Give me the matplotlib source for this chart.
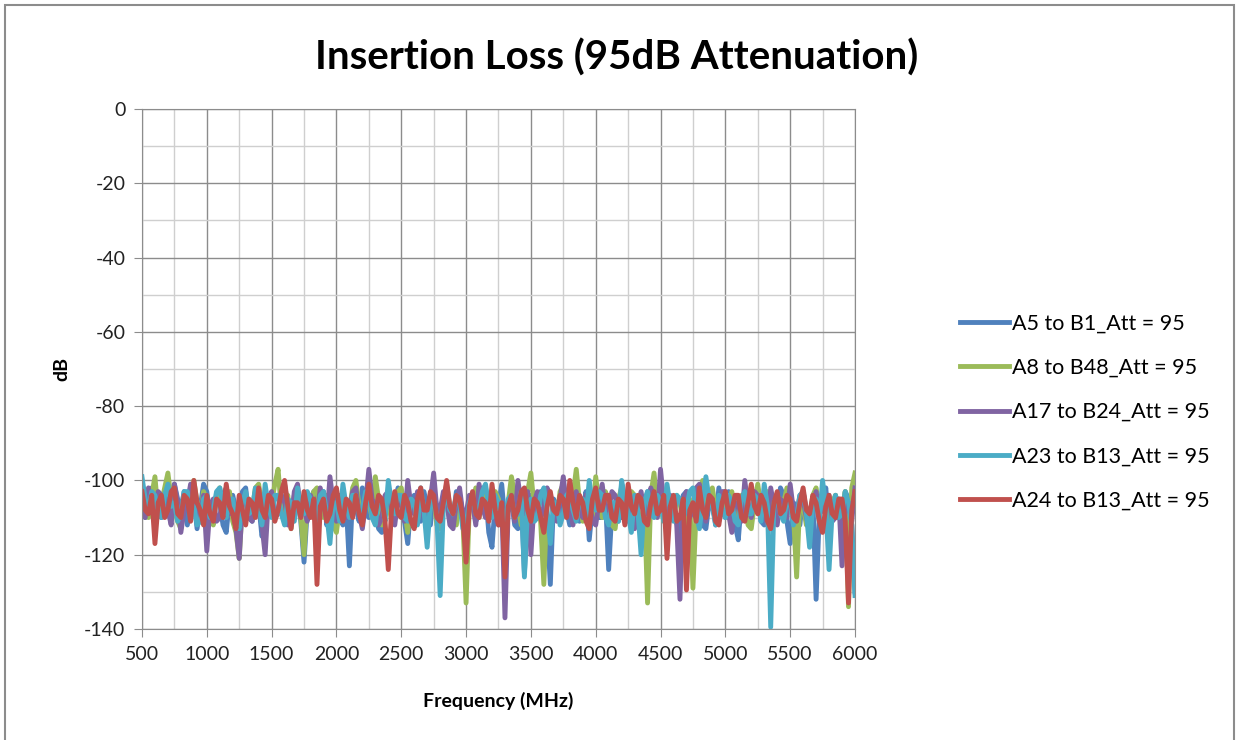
import numpy as np
import matplotlib
matplotlib.use("Agg")
import matplotlib.pyplot as plt
from matplotlib.patches import Rectangle

plt.rcParams['font.family'] = ['Lato', 'DejaVu Sans']
plt.rcParams['axes.unicode_minus'] = False

# frequency grid (MHz), one sample every 25 MHz
freq = np.arange(500, 6001, 25)

a5_b1 = [
    -104, -110, -109, -102, -103, -107, -110, -104, -106, -111, -101, -105, -108, -103, -112, -106, -105, -113, -107, -101,
    -103, -109, -110, -104, -106, -112, -114, -105, -104, -108, -109, -103, -102, -110, -111, -105, -106, -115, -113, -104,
    -104, -110, -108, -102, -101, -107, -110, -104, -105, -111, -122, -108, -106, -103, -111, -105, -103, -112, -109, -104,
    -105, -110, -112, -106, -123, -104, -107, -111, -102, -108, -110, -103, -106, -113, -114, -107, -103, -110, -109, -102,
    -105, -111, -117, -106, -104, -110, -111, -103, -107, -112, -102, -108, -112, -104, -106, -111, -110, -103, -104, -109,
    -115, -105, -106, -111, -109, -102, -103, -114, -118, -106, -107, -101, -111, -108, -105, -112, -113, -104, -125, -108,
    -104, -111, -110, -103, -106, -112, -128, -105, -107, -110, -102, -108, -112, -104, -105, -111, -109, -103, -116, -107,
    -104, -110, -110, -105, -124, -108, -106, -111, -101, -106, -111, -104, -105, -112, -114, -106, -103, -109, -108, -102,
    -104, -110, -112, -105, -106, -111, -118, -104, -103, -109, -109, -104, -105, -112, -113, -106, -107, -111, -102, -108,
    -110, -103, -106, -112, -116, -105, -104, -110, -109, -103, -103, -111, -112, -105, -106, -109, -110, -102, -104, -111,
    -117, -106, -107, -112, -103, -108, -111, -105, -132, -109, -106, -102, -113, -107, -104, -110, -110, -103, -105, -112,
    -130]

a8_b48 = [
    -103, -107, -110, -104, -99, -109, -106, -102, -98, -105, -108, -111, -113, -106, -104, -110, -100, -106, -109, -103,
    -105, -109, -112, -104, -102, -108, -107, -103, -111, -114, -121, -106, -104, -110, -108, -102, -101, -107, -110, -104,
    -106, -101, -97, -108, -109, -104, -113, -106, -104, -110, -120, -105, -107, -103, -102, -109, -110, -104, -105, -112,
    -114, -107, -103, -109, -108, -102, -100, -107, -111, -104, -106, -110, -99, -105, -112, -106, -105, -111, -109, -103,
    -102, -108, -114, -105, -107, -111, -103, -108, -110, -104, -105, -112, -113, -106, -101, -107, -108, -112, -104, -110,
    -133, -107, -106, -102, -110, -105, -102, -108, -109, -103, -105, -111, -112, -106, -99, -104, -107, -112, -110, -103,
    -98, -107, -106, -111, -128, -105, -104, -109, -110, -103, -101, -107, -108, -104, -97, -106, -111, -105, -105, -110,
    -99, -106, -110, -103, -106, -112, -113, -105, -102, -109, -108, -103, -104, -110, -111, -106, -133, -104, -98, -107,
    -107, -111, -103, -108, -110, -104, -106, -112, -114, -105, -129, -108, -104, -100, -109, -105, -102, -108, -111, -104,
    -106, -110, -103, -108, -110, -104, -105, -112, -113, -106, -101, -107, -108, -103, -104, -110, -111, -105, -106, -102,
    -103, -109, -126, -105, -107, -112, -110, -104, -102, -108, -108, -105, -113, -106, -104, -110, -109, -103, -134, -102,
    -98]

a17_b24 = [
    -106, -110, -102, -107, -110, -103, -104, -109, -108, -112, -101, -106, -114, -108, -106, -101, -103, -110, -109, -104,
    -119, -107, -105, -111, -110, -104, -102, -109, -108, -113, -121, -106, -104, -110, -111, -103, -106, -112, -120, -105,
    -103, -110, -109, -104, -105, -112, -112, -103, -101, -108, -108, -111, -104, -107, -110, -102, -106, -111, -99, -106,
    -111, -104, -105, -110, -108, -103, -102, -109, -113, -106, -97, -105, -107, -112, -110, -104, -103, -108, -112, -105,
    -106, -111, -100, -107, -109, -103, -104, -110, -111, -105, -98, -108, -108, -103, -105, -112, -113, -106, -102, -109,
    -109, -104, -106, -112, -101, -107, -110, -105, -104, -110, -112, -106, -137, -108, -105, -111, -100, -106, -109, -103,
    -120, -106, -103, -110, -108, -102, -104, -109, -111, -105, -99, -107, -107, -112, -103, -108, -110, -104, -105, -111,
    -112, -106, -101, -108, -108, -103, -104, -110, -110, -105, -106, -111, -113, -107, -103, -109, -109, -102, -105, -110,
    -97, -106, -110, -104, -106, -112, -132, -105, -103, -110, -108, -102, -101, -107, -111, -104, -105, -112, -109, -103,
    -103, -109, -114, -106, -106, -111, -100, -107, -110, -103, -104, -110, -108, -112, -102, -107, -112, -105, -106, -110,
    -101, -108, -109, -104, -105, -110, -113, -106, -103, -109, -108, -104, -104, -111, -110, -105, -123, -108, -106, -111,
    -102]

a23_b13 = [
    -99, -105, -108, -103, -104, -109, -110, -104, -101, -107, -106, -111, -109, -103, -103, -108, -107, -112, -111, -105,
    -104, -110, -108, -103, -102, -107, -110, -105, -105, -111, -113, -106, -103, -109, -108, -102, -106, -112, -101, -107,
    -110, -104, -104, -109, -112, -105, -106, -111, -102, -108, -109, -103, -105, -110, -111, -104, -103, -109, -117, -106,
    -106, -111, -101, -107, -110, -104, -104, -109, -108, -103, -103, -110, -112, -105, -106, -111, -100, -106, -109, -104,
    -104, -110, -111, -105, -106, -112, -102, -108, -118, -106, -105, -110, -131, -107, -103, -108, -109, -104, -106, -113,
    -112, -106, -104, -109, -108, -103, -101, -107, -110, -104, -106, -111, -113, -105, -104, -110, -109, -103, -126, -107,
    -105, -111, -110, -104, -102, -108, -117, -106, -106, -112, -109, -104, -103, -108, -111, -105, -105, -110, -100, -107,
    -108, -103, -104, -110, -112, -106, -106, -111, -100, -105, -109, -114, -104, -108, -120, -106, -103, -109, -110, -104,
    -106, -111, -101, -107, -111, -104, -105, -110, -108, -103, -102, -109, -113, -106, -99, -105, -107, -112, -104, -108,
    -110, -104, -106, -111, -112, -105, -103, -109, -109, -104, -105, -111, -101, -107, -139.5, -106, -104, -109, -111, -105,
    -106, -112, -110, -104, -103, -109, -118, -106, -105, -111, -100, -107, -124, -108, -104, -110, -109, -103, -106, -112,
    -131]

a24_b13 = [
    -103, -108, -109, -104, -117, -106, -104, -110, -108, -103, -102, -109, -110, -104, -105, -111, -100, -106, -108, -112,
    -104, -109, -111, -105, -106, -110, -101, -107, -109, -113, -104, -108, -112, -105, -106, -110, -102, -108, -110, -104,
    -105, -111, -108, -103, -100, -107, -113, -106, -106, -110, -103, -108, -110, -105, -128, -107, -105, -111, -109, -104,
    -102, -108, -111, -105, -106, -110, -104, -109, -112, -106, -101, -107, -109, -104, -105, -111, -124, -108, -103, -109,
    -110, -104, -106, -111, -113, -105, -102, -108, -108, -103, -104, -110, -111, -106, -100, -107, -109, -104, -105, -110,
    -122, -107, -103, -109, -110, -105, -106, -111, -101, -108, -112, -106, -126, -107, -104, -110, -108, -103, -102, -108,
    -111, -105, -106, -110, -114, -107, -103, -108, -109, -104, -105, -110, -100, -106, -110, -104, -106, -111, -113, -105,
    -102, -108, -108, -104, -104, -110, -111, -105, -106, -112, -101, -107, -109, -104, -105, -111, -112, -106, -103, -109,
    -108, -104, -121, -107, -104, -111, -110, -105, -129.5, -108, -106, -111, -102, -108, -110, -104, -105, -111, -112, -106,
    -103, -109, -108, -104, -104, -110, -111, -106, -101, -107, -109, -104, -106, -111, -113, -106, -103, -109, -108, -104,
    -105, -110, -111, -106, -102, -108, -109, -104, -106, -111, -114, -107, -104, -109, -110, -105, -105, -111, -133, -108,
    -103]

series = [a5_b1, a8_b48, a17_b24, a23_b13, a24_b13]
labels = ["A5 to B1_Att = 95", "A8 to B48_Att = 95", "A17 to B24_Att = 95",
          "A23 to B13_Att = 95", "A24 to B13_Att = 95"]
colors = ["#4F81BD", "#9BBB59", "#8064A2", "#4BACC6", "#C0504D"]

x_ticks = np.arange(500, 6001, 500)
y_ticks = np.arange(-140, 1, 20)

fig = plt.figure(figsize=(12.4, 7.4), dpi=100)
ax = fig.add_axes([0.1145, 0.15, 0.575, 0.7027])

for vals, lab, col in zip(series, labels, colors):
    ax.plot(freq, vals, color=col, lw=3.5, label=lab, solid_joinstyle='round')

ax.set_xlim(500, 6000)
ax.set_ylim(-140, 0)
ax.set_xticks(x_ticks)
ax.set_yticks(y_ticks)
ax.set_xticks(np.arange(750, 6000, 500), minor=True)
ax.set_yticks(np.arange(-130, 0, 20), minor=True)
ax.grid(which='major', color='#8c8c8c', lw=1.0)
ax.grid(which='minor', color='#cfcfcf', lw=1.0)
ax.set_axisbelow(True)
for s in ax.spines.values():
    s.set_color('#8c8c8c')
ax.tick_params(which='major', axis='both', direction='out', length=6,
               color='#8c8c8c', labelsize=14, labelcolor='#222222', pad=6)
ax.tick_params(which='minor', length=0)

ax.set_xlabel("Frequency (MHz)", fontsize=14, fontweight='bold', labelpad=21)
ax.set_ylabel("dB", fontsize=14, fontweight='bold', labelpad=10)
fig.suptitle("Insertion Loss (95dB Attenuation)", fontsize=29, fontweight='bold',
             x=0.4975, y=0.948)

ax.legend(loc='center left', bbox_to_anchor=(1.12, 0.417), frameon=False,
          fontsize=15.5, handlelength=2.3, handletextpad=0.1, labelspacing=1.13)

fig.patches.append(Rectangle((0.004, -0.01), 0.991, 1.003, transform=fig.transFigure,
                             fill=False, edgecolor='#8c8c8c', lw=1.5))

fig.savefig("out.png", dpi=100)
